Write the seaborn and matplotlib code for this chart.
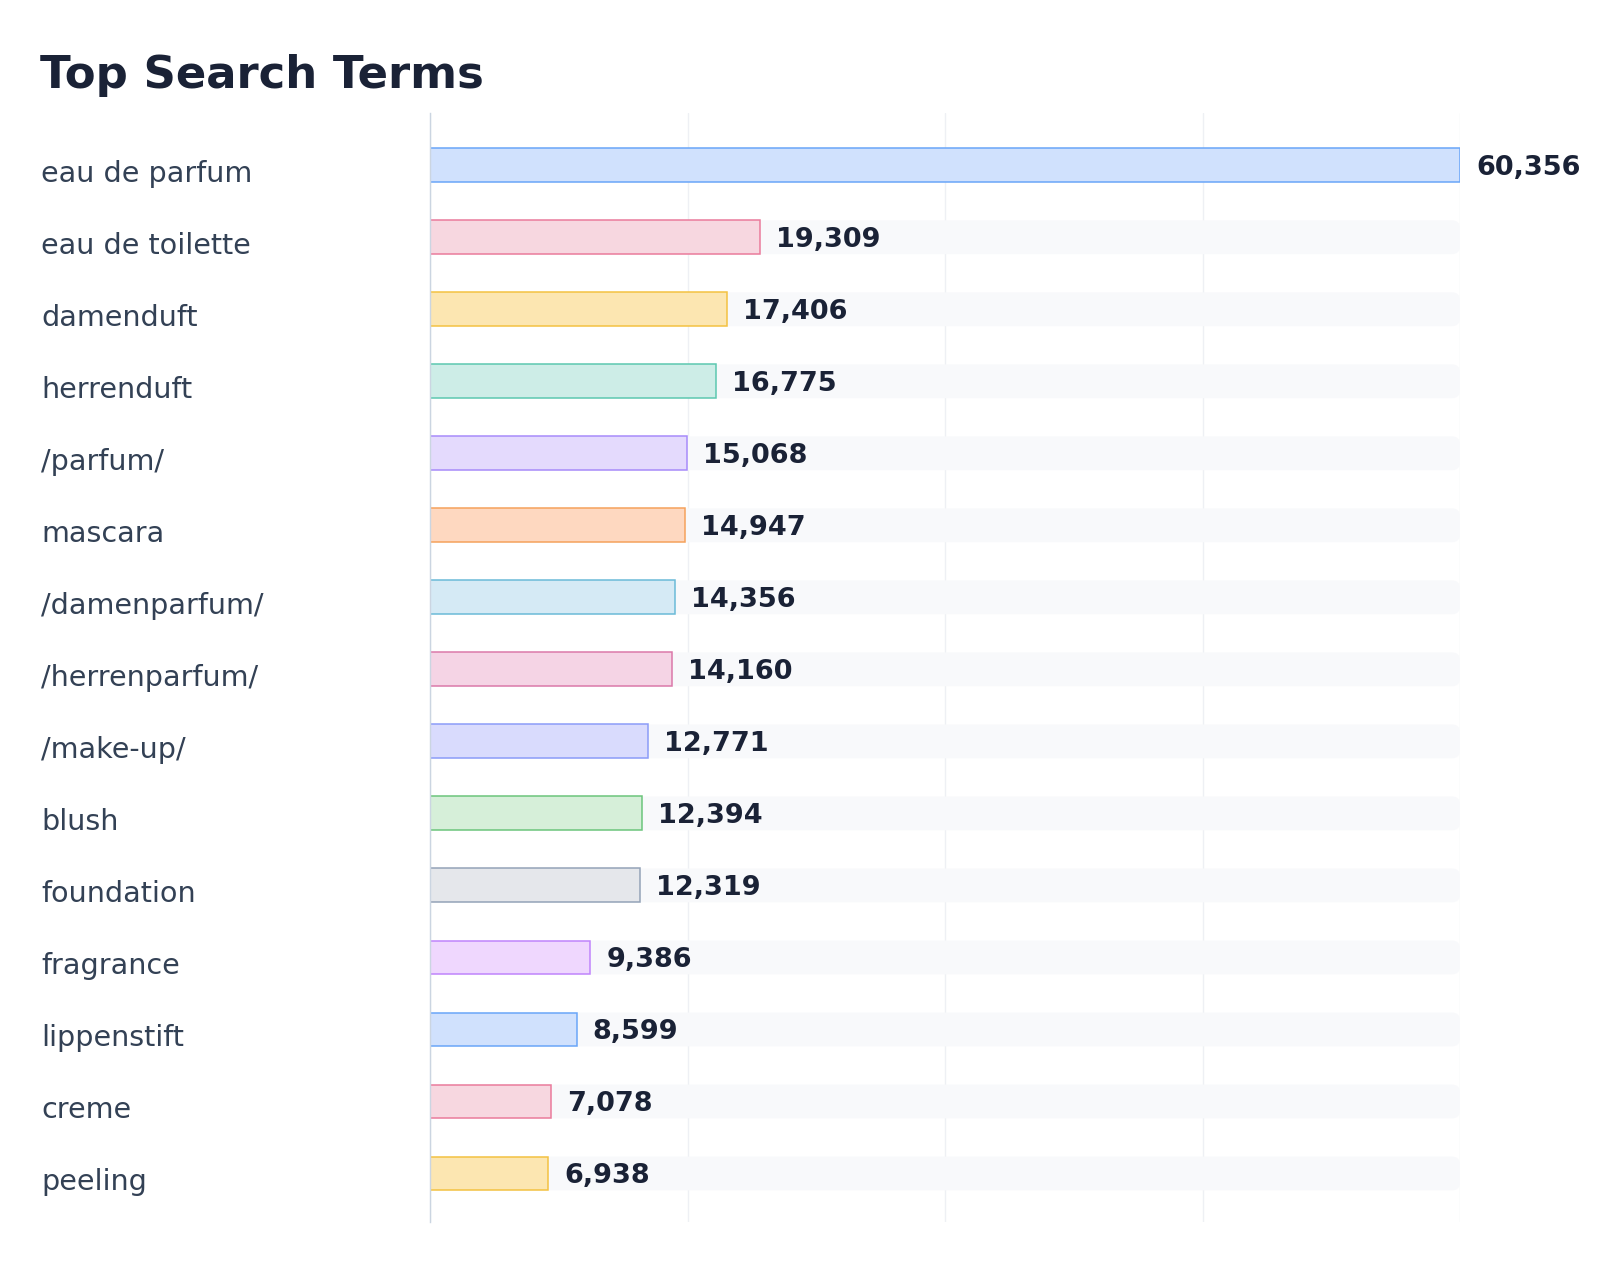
import numpy as np
import pandas as pd
import matplotlib
matplotlib.use("Agg")
import matplotlib.pyplot as plt
import matplotlib.transforms as mtrans
from matplotlib.patches import FancyBboxPatch
import seaborn as sns

# data
terms = ["eau de parfum", "eau de toilette", "damenduft", "herrenduft", "/parfum/",
         "mascara", "/damenparfum/", "/herrenparfum/", "/make-up/", "blush",
         "foundation", "fragrance", "lippenstift", "creme", "peeling"]
counts = [60356, 19309, 17406, 16775, 15068, 14947, 14356, 14160, 12771,
          12394, 12319, 9386, 8599, 7078, 6938]

fills = ["#d0e1fd", "#f7d7e0", "#fce6b1", "#cdede7", "#e4dafd", "#fed8c0",
         "#d5eaf5", "#f5d4e5", "#d9dbfd", "#d6efd9", "#e5e7eb", "#efd7fe"]
edges = ["#6aa6f8", "#ea7b9c", "#f4c242", "#5cc8b0", "#a78bfa", "#f5a25c",
         "#6bbbd8", "#db79aa", "#8b9cf8", "#6cc57c", "#94a3b8", "#c084fc"]

df = pd.DataFrame({"term": terms, "count": counts})
df["track"] = df["count"].max()
bar_fill = [fills[i % len(fills)] for i in range(len(df))]
bar_edge = [edges[i % len(edges)] for i in range(len(df))]

sns.set_style("white")
plt.rcParams["font.family"] = ["DejaVu Sans"]

fig = plt.figure(figsize=(16, 12.82), dpi=100)
ax = fig.add_axes([0.26875, 0.047, 0.64375, 0.8647])

# grey tracks behind the bars
sns.barplot(data=df, x="track", y="term", orient="h", color="#f8f9fb",
            width=0.47, saturation=1, ax=ax, zorder=1)
n_track = len(ax.patches)

# the actual bars
sns.barplot(data=df, x="count", y="term", hue="term", palette=bar_fill,
            orient="h", width=0.47, saturation=1, legend=False, ax=ax, zorder=2)
for p, ec in zip(ax.patches[n_track:], bar_edge):
    p.set_edgecolor(ec)
    p.set_linewidth(1.1)

xmax = df["count"].max()
ax.set_xlim(0, xmax)
ax.set_ylim(len(df) - 0.33, -0.722)

# round the ends of the tracks (radius about 8 px)
fig.canvas.draw()
bb = ax.get_window_extent()
x_per_px = xmax / bb.width
y_per_px = (len(df) - 0.33 + 0.722) / bb.height
for p in list(ax.patches[:n_track]):
    rb = FancyBboxPatch((p.get_x(), p.get_y()), p.get_width(), p.get_height(),
                        boxstyle=f"round,pad=0,rounding_size={8 * x_per_px}",
                        mutation_aspect=y_per_px / x_per_px,
                        facecolor="#f8f9fb", edgecolor="none", zorder=1)
    ax.add_patch(rb)
    p.remove()

ax.set_xticks(np.linspace(0, xmax, 5))
ax.xaxis.grid(True, color="#eef0f4", linewidth=1)
ax.set_axisbelow(True)
ax.tick_params(left=False, bottom=False, labelleft=False, labelbottom=False)
ax.set_xlabel("")
ax.set_ylabel("")
for s in ["top", "right", "bottom"]:
    ax.spines[s].set_visible(False)
ax.spines["left"].set_color("#cbd5e1")
ax.spines["left"].set_linewidth(1)
ax.spines["left"].set_zorder(3)

# value labels
for i, v in enumerate(df["count"]):
    ax.annotate(f"{v:,}", xy=(v, i), xytext=(16, -3), textcoords="offset pixels",
                ha="left", va="center", fontsize=19.5, fontweight="bold",
                color="#1a2236", annotation_clip=False)

# category labels, left aligned at the figure edge
lab_tr = mtrans.blended_transform_factory(fig.transFigure, ax.transData)
lab_tr = mtrans.offset_copy(lab_tr, fig=fig, y=-9, units="dots")
for i, t in enumerate(df["term"]):
    ax.text(41 / 1600, i, t, transform=lab_tr, ha="left", va="center",
            fontsize=20.6, color="#334155")

fig.text(40 / 1600, 1 - 88 / 1282, "Top Search Terms", ha="left", va="baseline",
         fontsize=32.4, fontweight="bold", color="#1a2236")

fig.savefig("out.png", dpi=100, facecolor="white")
